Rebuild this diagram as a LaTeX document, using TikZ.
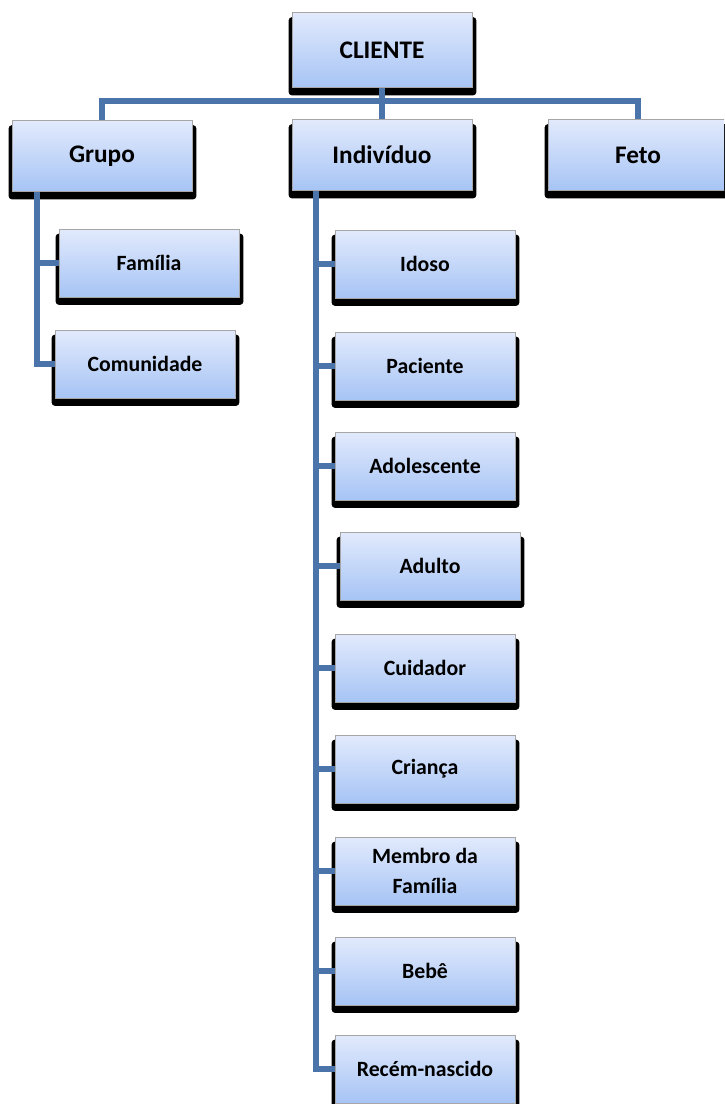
\documentclass[tikz,border=0pt]{standalone}
\usepackage{fontspec}
\setmainfont{Carlito}
\usetikzlibrary{backgrounds}
\definecolor{boxtop}{RGB}{226,234,252}
\definecolor{boxbot}{RGB}{166,196,245}
\definecolor{linkblue}{RGB}{74,116,170}
\tikzset{
  box/.style={draw=gray!70, line width=0.5pt, top color=boxtop, bottom color=boxbot,
    minimum width=3.6cm, minimum height=1.36cm, inner sep=2pt, align=center,
    font=\bfseries\fontsize{12.4}{17}\selectfont},
  head/.style={box, minimum height=1.42cm, font=\bfseries\fontsize{14.4}{17}\selectfont},
  link/.style={draw=linkblue, line width=0.12cm},
}
\begin{document}
\begin{tikzpicture}[x=0.02cm, y=-0.02cm]
      \clip (0, 0) rectangle (724, 1104);
      % top level
      \node [head, minimum height=1.5cm] (cliente) at (382, 50) {CLIENTE};
      \node [head] (grupo) at (102, 156) {Grupo};
      \node [head] (individuo) at (382, 155) {Indivíduo};
      \node [head] (feto) at (638, 155) {Feto};
      % groups
      \node [box] (familia) at (149, 263) {Família};
      \node [box] (comunidade) at (145, 364) {Comunidade};
      % individuals
      \node [box] (idoso) at (425, 264) {Idoso};
      \node [box] (paciente) at (425, 366) {Paciente};
      \node [box] (adolescente) at (425, 466) {Adolescente};
      \node [box] (adulto) at (430, 566) {Adulto};
      \node [box] (cuidador) at (425, 668) {Cuidador};
      \node [box] (crianca) at (425, 769) {Criança};
      \node [box] (membro) at (425, 871) {Membro da\\Família};
      \node [box] (bebe) at (425, 971) {Bebê};
      \node [box] (recem) at (425, 1069) {Recém-nascido};
      % shadows
      \begin{scope}[on background layer]
        \foreach \n in {cliente, grupo, individuo, feto, familia, comunidade, idoso, paciente,
            adolescente, adulto, cuidador, crianca, membro, bebe, recem}
          \fill [black, rounded corners=2pt] ([shift={(-0.06cm, -0.1cm)}]\n.north west)
            rectangle ([shift={(0.08cm, -0.15cm)}]\n.south east);
      \end{scope}
      % connectors
      \coordinate (bar) at (382, 101);
      \draw [link] (cliente.south) -- (individuo.north);
      \draw [link] (grupo.north) |- (bar) -| (feto.north);
      \coordinate (gspine) at ([xshift=0.5cm]grupo.south west);
      \draw [link] (gspine) |- (comunidade.west);
      \draw [link] (gspine |- familia.west) -- (familia.west);
      \coordinate (ispine) at ([xshift=0.48cm]individuo.south west);
      \draw [link] (ispine) |- (recem.west);
      \foreach \n in {idoso, paciente, adolescente, adulto, cuidador, crianca, membro, bebe}
        \draw [link] (ispine |- \n.west) -- (\n.west);
\end{tikzpicture}
\end{document}
